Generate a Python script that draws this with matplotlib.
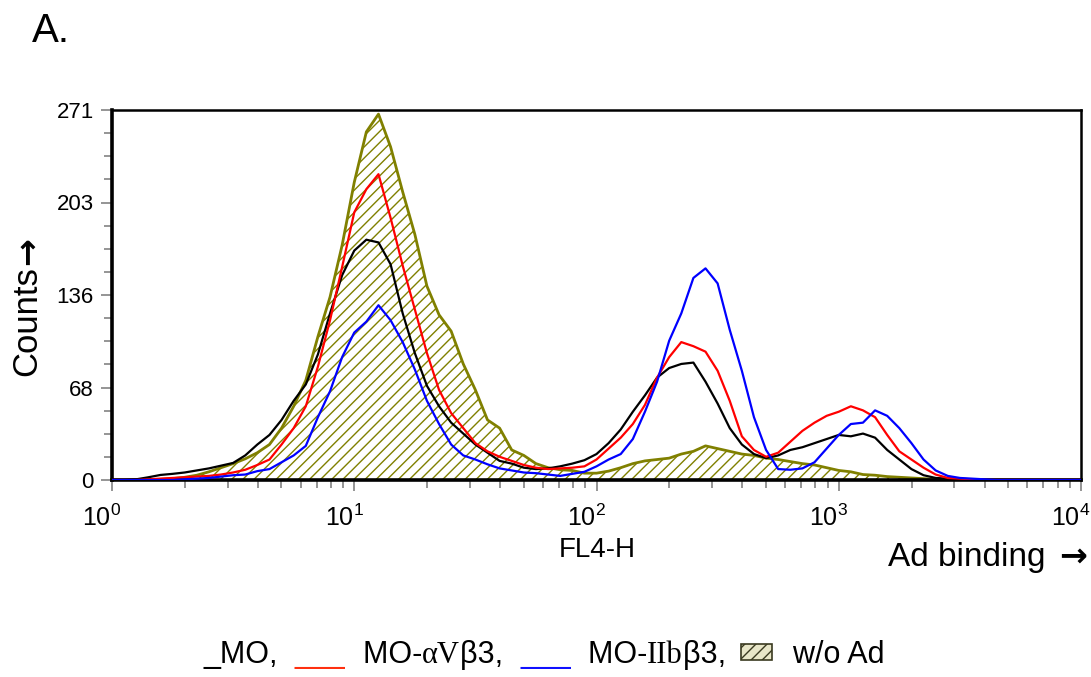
import numpy as np
import matplotlib
matplotlib.use('Agg')
import matplotlib.pyplot as plt
from matplotlib.ticker import FixedLocator, NullFormatter, LogLocator, FixedFormatter
from matplotlib.offsetbox import TextArea, HPacker, DrawingArea, AnchoredOffsetbox
from matplotlib.patches import Rectangle
from matplotlib.transforms import ScaledTranslation

plt.rcParams['font.family'] = ['Liberation Sans', 'DejaVu Sans']
plt.rcParams['hatch.linewidth'] = 1.0

# FL4-H channels (log10 of fluorescence), 4 decades
log_channel = np.linspace(0, 4, 81)
fluorescence = 10 ** log_channel

counts_without_ad = [0, 0, 0, 0, 0.5, 1, 2, 3.5, 6, 9,
                     12, 15.5, 20, 26, 38, 54, 73, 105, 134, 172,
                     218, 255, 268, 244, 211, 180, 142, 121, 109, 85,
                     66, 44, 38, 22, 18, 12, 9, 7.5, 7, 5,
                     5, 6.5, 9, 12, 14, 15, 16, 19, 21, 25,
                     23, 21, 19, 18, 16, 15, 13.5, 12, 11, 9,
                     7, 6, 4, 3.5, 2.5, 2, 1.5, 1, 0.5, 0,
                     0, 0, 0, 0, 0, 0, 0, 0, 0, 0, 0]
counts_mo = [0, 0, 0.5, 2, 3.7, 4.5, 5.5, 7, 8.5, 10.5,
             12.5, 18, 26, 33, 44, 58, 70, 92, 122, 150,
             168, 176, 174, 158, 122, 93, 69, 54, 42, 34,
             26, 20, 14, 12, 9, 8, 8.5, 10, 12, 14.5,
             19, 27, 37, 50, 62, 75, 82, 85, 86, 72,
             56, 38, 26, 19, 16, 18, 22, 24, 27, 30,
             33, 32, 34, 31, 22, 15, 8, 3.5, 1.5, 1,
             0.5, 0, 0, 0, 0, 0, 0, 0, 0, 0, 0]
counts_mo_avb3 = [0, 0, 0, 0.5, 1, 1.5, 2, 2.5, 3, 4,
                  5.5, 7.5, 11, 15, 26, 38, 54, 83, 117, 156,
                  196, 213, 224, 192, 157, 125, 93, 66, 49, 38,
                  27, 21, 17, 14, 11, 9, 8, 8.5, 9, 10,
                  15, 23, 31, 41, 55, 75, 90, 101, 98, 94,
                  80, 58, 32, 22, 17, 20, 28, 36, 42, 47,
                  50, 54, 51, 46, 33, 21, 15, 9, 4, 1.5,
                  1, 0.5, 0, 0, 0, 0, 0, 0, 0, 0, 0]
counts_mo_iibb3 = [0, 0, 0, 0, 0, 0, 0.5, 1, 1.5, 2.5,
                   3.5, 4, 6.5, 8, 13, 18, 25, 46, 65, 90,
                   108, 116, 128, 117, 101, 81, 58, 41, 26, 18,
                   15, 11.5, 8.5, 7, 5.5, 5, 4, 3, 4.5, 6,
                   10, 15, 19, 30, 50, 72, 102, 122, 148, 155,
                   144, 110, 80, 46, 22, 8, 7.5, 8.5, 13, 23,
                   33, 41, 42, 51, 47, 38, 27, 15, 7, 3,
                   1.5, 1, 0.5, 0, 0, 0, 0, 0, 0, 0, 0]

y_tick_values = np.linspace(0, 271, 5)
y_tick_labels = ['0', '68', '136', '203', '271']
x_tick_values = [1, 10, 100, 1000, 10000]
x_tick_labels = [r'$\mathregular{10^{%d}}$' % i for i in range(5)]

OLIVE = '#808000'

fig = plt.figure(figsize=(10.91, 6.77), dpi=100)
ax = fig.add_axes([112 / 1091, 1 - 480 / 677, 969 / 1091, 370 / 677])

ax.fill_between(fluorescence, counts_without_ad, 0, facecolor='white',
                edgecolor=OLIVE, hatch='///', linewidth=0, zorder=1)
ax.plot(fluorescence, counts_without_ad, color=OLIVE, lw=2.0, zorder=2)
ax.plot(fluorescence, counts_mo, color='black', lw=1.6, zorder=3)
ax.plot(fluorescence, counts_mo_avb3, color='#ff0000', lw=1.6, zorder=4)
ax.plot(fluorescence, counts_mo_iibb3, color='#0000ff', lw=1.6, zorder=5)

ax.set_xscale('log')
ax.set_xlim(1, 1e4)
ax.set_ylim(0, 271)

ax.xaxis.set_major_locator(FixedLocator(x_tick_values))
ax.xaxis.set_major_formatter(FixedFormatter(x_tick_labels))
ax.xaxis.set_minor_locator(LogLocator(base=10, subs=np.arange(2, 10)))
ax.xaxis.set_minor_formatter(NullFormatter())
ax.yaxis.set_major_locator(FixedLocator(y_tick_values))
ax.yaxis.set_major_formatter(FixedFormatter(y_tick_labels))
ax.yaxis.set_minor_locator(FixedLocator(np.linspace(0, 271, 17)))

ax.tick_params(axis='both', which='both', direction='out', color='#8c8c8c', width=1.3)
ax.tick_params(axis='both', which='major', length=8)
ax.tick_params(axis='both', which='minor', length=5.5)
ax.tick_params(axis='x', which='major', labelsize=18, pad=10)
ax.tick_params(axis='y', which='major', labelsize=16, pad=5)

shift = ScaledTranslation(-10 / 100, 0, fig.dpi_scale_trans)
for lab in ax.get_xticklabels():
    lab.set_transform(lab.get_transform() + shift)

for side in ['left', 'bottom']:
    ax.spines[side].set_linewidth(2.6)
for side in ['top', 'right']:
    ax.spines[side].set_linewidth(1.8)

fig.text(32 / 1091, 1 - 42 / 677, 'A.', fontsize=29, va='baseline', ha='left')
fig.text(597 / 1091, 1 - 557 / 677, 'FL4-H', fontsize=20, va='baseline', ha='center')
fig.text(1045 / 1091, 1 - 566 / 677, 'Ad binding', fontsize=24, va='baseline', ha='right')
fig.text(1087 / 1091, 1 - 566 / 677, '\u2192', fontsize=24, va='baseline', ha='right',
         family='DejaVu Sans', fontweight='bold')
fig.text(27 / 1091, 1 - 321 / 677, 'Counts', fontsize=25, rotation=90,
         va='center', ha='center')
fig.text(27 / 1091, 1 - 251 / 677, '\u2192', fontsize=24, rotation=90,
         va='center', ha='center', family='DejaVu Sans', fontweight='bold')

sans = dict(size=22, family=['Liberation Sans', 'DejaVu Sans'], color='black')
serif = dict(size=22, family=['Liberation Serif', 'DejaVu Serif'], color='black')

box = DrawingArea(30, 16, 0, 0)
box.add_artist(Rectangle((5, 2), 22, 12, facecolor='#e8e6c8', edgecolor='#3a3a20',
                         hatch='///', linewidth=1.2))

pieces = [
    TextArea('_MO,  ', textprops=sans),
    TextArea('___', textprops=dict(sans, color='#ff3010')),
    TextArea('  MO-', textprops=sans),
    TextArea('\u03b1V', textprops=serif),
    TextArea('\u03b23,  ', textprops=sans),
    TextArea('___', textprops=dict(sans, color='#1010ff')),
    TextArea('  MO-', textprops=sans),
    TextArea('IIb', textprops=serif),
    TextArea('\u03b23, ', textprops=sans),
    box,
    TextArea('  w/o Ad', textprops=sans),
]
legend_row = HPacker(children=pieces, align='baseline', pad=0, sep=0)
anchored = AnchoredOffsetbox(loc='center', child=legend_row, frameon=False,
                             bbox_to_anchor=(544 / 1091, 1 - 655 / 677),
                             bbox_transform=fig.transFigure, pad=0, borderpad=0)
fig.add_artist(anchored)

fig.savefig('out.png', dpi=100)
